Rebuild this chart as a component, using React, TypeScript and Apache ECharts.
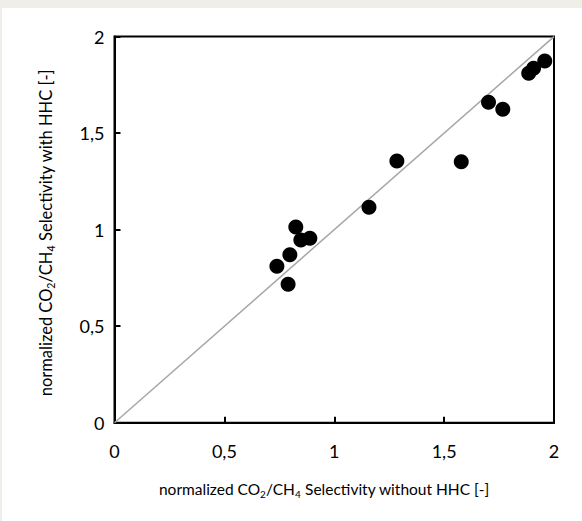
import React, { useEffect, useRef } from "react";
import * as echarts from "echarts";

const xValues = [0.739, 0.79, 0.798, 0.825, 0.848, 0.889, 1.158, 1.285, 1.578, 1.702, 1.767, 1.885, 1.907, 1.958];
const yValues = [0.81, 0.717, 0.87, 1.014, 0.947, 0.955, 1.116, 1.356, 1.352, 1.66, 1.624, 1.81, 1.836, 1.873];
const parityLine = [[0, 0], [2, 2]];
const xAxisTitle = "normalized CO{sub|2}/CH{sub|4} Selectivity without HHC [-]";
const yAxisTitle = "normalized CO{sub|2}/CH{sub|4} Selectivity with HHC [-]";

const FONT = "Lato, 'Liberation Sans', sans-serif";

export default function App() {
  const ref = useRef<HTMLDivElement>(null);
  useEffect(() => {
    if (!ref.current) return;
    const chart = echarts.init(ref.current, undefined, { renderer: "svg" });
    const points = xValues.map((x, i) => [x, yValues[i]]);
    const fmt = (v: number) => String(v).replace(".", ",");
    const richX = {
      sub: { fontSize: 10, fontFamily: FONT, color: "#000", verticalAlign: "bottom", lineHeight: 20 },
    };
    const richY = {
      sub: { fontSize: 10.5, fontFamily: FONT, color: "#000", verticalAlign: "bottom", lineHeight: 21 },
    };
    chart.setOption({
      animation: false,
      backgroundColor: "#ffffff",
      grid: {
        left: 112.5,
        right: 28,
        top: 28.6,
        bottom: 98.3,
        show: true,
        borderColor: "#000",
        borderWidth: 2,
        backgroundColor: "transparent",
      },
      xAxis: {
        type: "value",
        min: 0,
        max: 2,
        interval: 0.5,
        name: xAxisTitle,
        nameLocation: "middle",
        nameGap: 56,
        nameTextStyle: {
          fontSize: 15.5,
          fontFamily: FONT,
          color: "#000",
          padding: [0, 20, 0, 0],
          lineHeight: 20,
          rich: richX,
        },
        axisLine: { show: true, lineStyle: { color: "#000", width: 2 } },
        axisTick: { show: true, inside: true, length: 6, lineStyle: { color: "#000", width: 2 } },
        axisLabel: { fontSize: 18, fontFamily: FONT, color: "#000", margin: 19, formatter: fmt },
        splitLine: { show: false },
      },
      yAxis: {
        type: "value",
        min: 0,
        max: 2,
        interval: 0.5,
        name: yAxisTitle,
        nameLocation: "middle",
        nameGap: 58,
        nameRotate: 90,
        nameTextStyle: {
          fontSize: 16.5,
          fontFamily: FONT,
          color: "#000",
          lineHeight: 21,
          padding: [0, 6, 0, 0],
          rich: richY,
        },
        axisLine: { show: true, lineStyle: { color: "#000", width: 2 } },
        axisTick: { show: true, inside: true, length: 6, lineStyle: { color: "#000", width: 2 } },
        axisLabel: { fontSize: 18, fontFamily: FONT, color: "#000", margin: 10, formatter: fmt },
        splitLine: { show: false },
      },
      series: [
        {
          type: "line",
          data: parityLine,
          showSymbol: false,
          symbol: "none",
          lineStyle: { color: "#a6a6a6", width: 1.5 },
          silent: true,
          z: 1,
        },
        {
          type: "scatter",
          data: points,
          symbol: "circle",
          symbolSize: 15,
          itemStyle: { color: "#000", opacity: 1 },
          z: 3,
        },
      ],
    });
    return () => chart.dispose();
  }, []);
  return (
    <div
      style={{
        position: "fixed",
        left: 0,
        top: 0,
        width: 582,
        height: 521,
        background: "#efeee9",
      }}
    >
      <div
        ref={ref}
        style={{ position: "absolute", left: 2, top: 8, width: 580, height: 513, background: "#fff" }}
      />
    </div>
  );
}
